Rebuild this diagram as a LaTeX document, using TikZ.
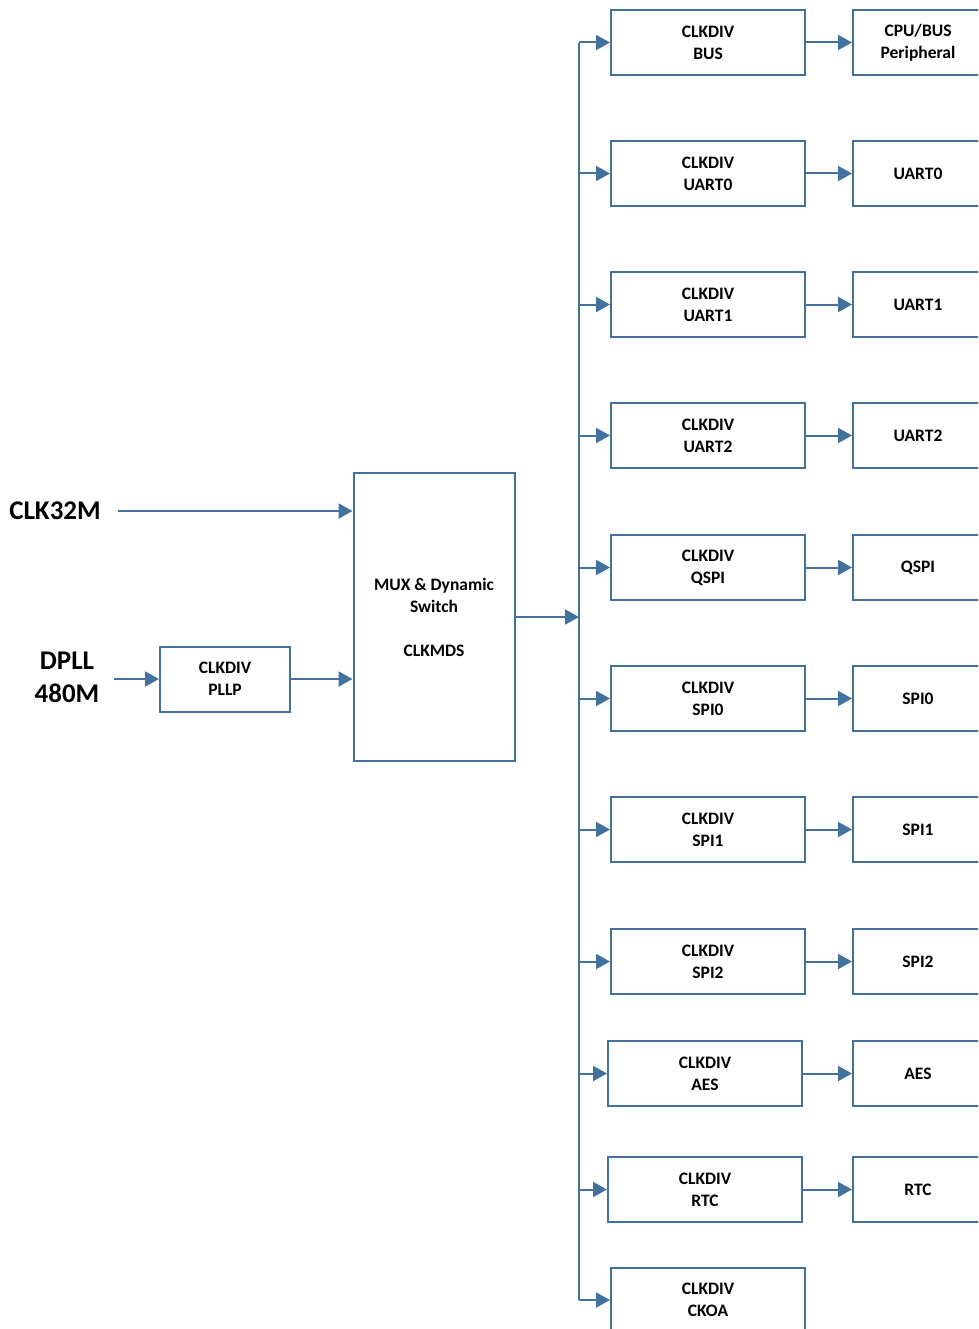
\documentclass[tikz,border=0pt]{standalone}
\usepackage{fontspec}
\setmainfont{Carlito}
\usepackage{tikz}
\usetikzlibrary{arrows.meta,positioning}
\definecolor{clkblue}{HTML}{41719C}

\begin{document}
\begin{tikzpicture}[x=1pt, y=-1pt,
  blk/.style={draw=clkblue, line width=2pt, align=center, inner sep=0pt,
    font=\bfseries\fontsize{17.5}{22}\selectfont},
  divbox/.style={blk, minimum width=194pt, minimum height=65pt},
  perbox/.style={blk, minimum width=130pt, minimum height=65pt},
  src/.style={align=center, font=\bfseries\fontsize{27}{33}\selectfont},
  arr/.style={-{Triangle[length=14pt, width=15pt]}, line width=2pt, clkblue}]
\useasboundingbox (0,0) rectangle (978,1329);
\clip (0,0) rectangle (978,1329);
% sources and the mux
\node[src] (clk32) at (55,511) {CLK32M};
\node[src] (dpll) at (67,677) {DPLL\\480M};
\node[perbox] (pllp) at (225,679) {CLKDIV\\PLLP};
\node[blk, minimum width=161pt, minimum height=288pt] (mux) at (434,617)
  {MUX \& Dynamic\\Switch\\[22pt]CLKMDS};
\coordinate (bustop) at (579,43);
\coordinate (busbot) at (579,1300);
% dividers
\node[divbox] (dbus) at (708,42.5) {CLKDIV\\BUS};
\node[divbox] (duart0) at (708,173.5) {CLKDIV\\UART0};
\node[divbox] (duart1) at (708,304.5) {CLKDIV\\UART1};
\node[divbox] (duart2) at (708,435.5) {CLKDIV\\UART2};
\node[divbox] (dqspi) at (708,567.5) {CLKDIV\\QSPI};
\node[divbox] (dspi0) at (708,698.5) {CLKDIV\\SPI0};
\node[divbox] (dspi1) at (708,829.5) {CLKDIV\\SPI1};
\node[divbox] (dspi2) at (708,961.5) {CLKDIV\\SPI2};
\node[divbox] (daes) at (705,1073.5) {CLKDIV\\AES};
\node[divbox] (drtc) at (705,1189.5) {CLKDIV\\RTC};
\node[divbox] (dckoa) at (708,1300) {CLKDIV\\CKOA};
% clock users
\node[perbox, right=46pt of dbus] (pbus) {CPU/BUS\\Peripheral};
\node[perbox, right=46pt of duart0] (puart0) {UART0};
\node[perbox, right=46pt of duart1] (puart1) {UART1};
\node[perbox, right=46pt of duart2] (puart2) {UART2};
\node[perbox, right=46pt of dqspi] (pqspi) {QSPI};
\node[perbox, right=46pt of dspi0] (pspi0) {SPI0};
\node[perbox, right=46pt of dspi1] (pspi1) {SPI1};
\node[perbox, right=46pt of dspi2] (pspi2) {SPI2};
\node[perbox, right=49pt of daes] (paes) {AES};
\node[perbox, right=49pt of drtc] (prtc) {RTC};
% wiring
\draw[arr, shorten <=14pt] (clk32.east) -- (clk32.east -| mux.west);
\draw[arr, shorten <=11pt] (dpll.east |- pllp.west) -- (pllp.west);
\draw[arr] (pllp.east) -- (pllp.east -| mux.west);
\draw[arr] (mux.east) -- (mux.east -| bustop);
\draw[clkblue, line width=2pt] (bustop) -- (busbot);
\draw[arr] (bustop |- dbus.west) -- (dbus.west);
\draw[arr] (bustop |- duart0.west) -- (duart0.west);
\draw[arr] (bustop |- duart1.west) -- (duart1.west);
\draw[arr] (bustop |- duart2.west) -- (duart2.west);
\draw[arr] (bustop |- dqspi.west) -- (dqspi.west);
\draw[arr] (bustop |- dspi0.west) -- (dspi0.west);
\draw[arr] (bustop |- dspi1.west) -- (dspi1.west);
\draw[arr] (bustop |- dspi2.west) -- (dspi2.west);
\draw[arr] (bustop |- daes.west) -- (daes.west);
\draw[arr] (bustop |- drtc.west) -- (drtc.west);
\draw[arr] (bustop |- dckoa.west) -- (dckoa.west);
\draw[arr] (dbus) -- (pbus);
\draw[arr] (duart0) -- (puart0);
\draw[arr] (duart1) -- (puart1);
\draw[arr] (duart2) -- (puart2);
\draw[arr] (dqspi) -- (pqspi);
\draw[arr] (dspi0) -- (pspi0);
\draw[arr] (dspi1) -- (pspi1);
\draw[arr] (dspi2) -- (pspi2);
\draw[arr] (daes) -- (paes);
\draw[arr] (drtc) -- (prtc);
\end{tikzpicture}
\end{document}
